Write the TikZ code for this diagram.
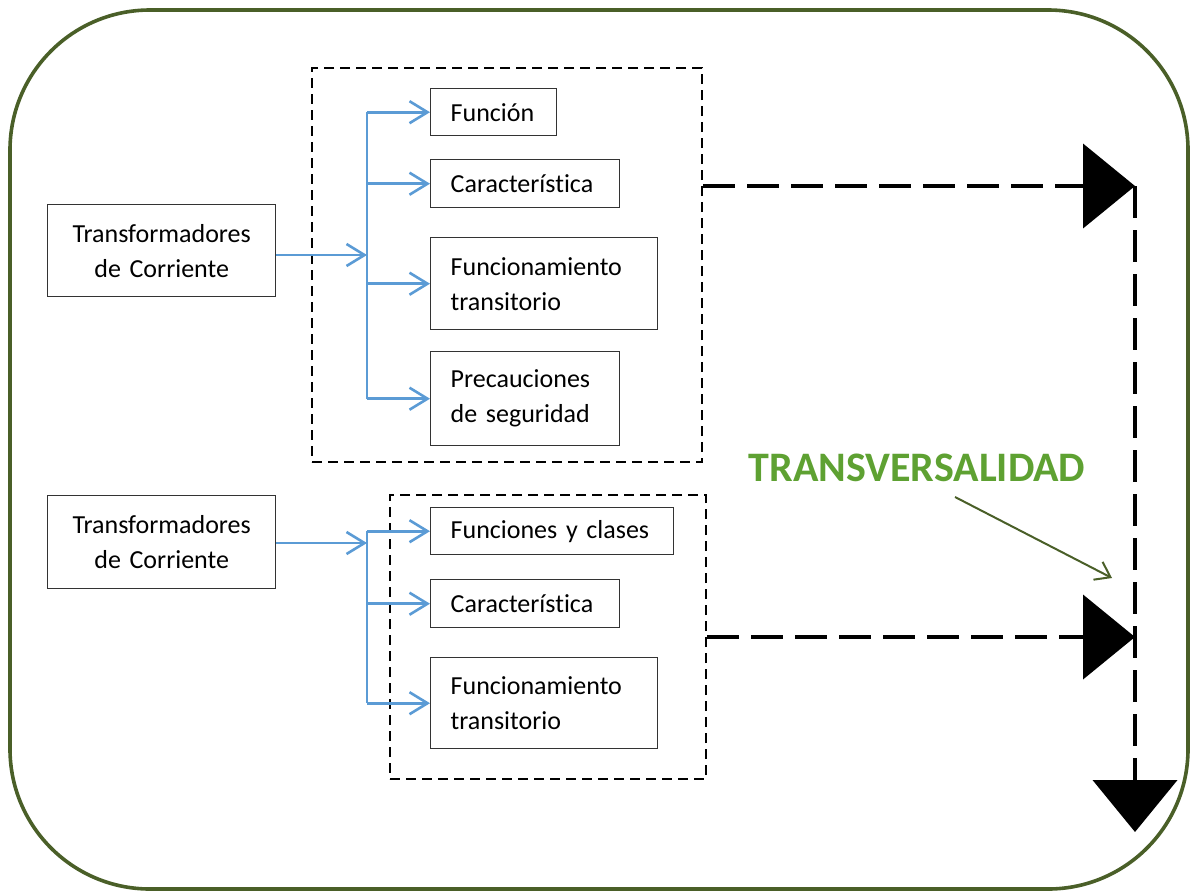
\documentclass[tikz,border=0pt]{standalone}
\usepackage{fontspec}
\setmainfont{Carlito}[WordSpace=0.7, Ligatures=NoCommon]
\usetikzlibrary{arrows.meta}
\definecolor{verdeosc}{HTML}{4A5F28}
\definecolor{verdetit}{HTML}{5EA132}
\definecolor{azul}{HTML}{5B9BD5}
\tikzset{
  caja/.style={draw=black!80, line width=0.7pt, rectangle, anchor=north west, inner xsep=10pt, align=left, font=\fontsize{13}{17.5}\selectfont},
  grupo/.style={draw, dashed, dash pattern=on 5pt off 3pt, line width=1.2pt, anchor=north west},
  flecha/.style={azul, line width=1.3pt, -{Straight Barb[length=9pt,width=11pt]}},
  trazo/.style={line width=2.2pt, dash pattern=on 16pt off 6pt}
}
\begin{document}
\begin{tikzpicture}[x=0.5pt, y=-0.5pt]
  \useasboundingbox (0,0) rectangle (1192,890);
  \draw[verdeosc, line width=1.8pt, rounded corners=70pt] (10,10) rectangle (1188,889);

  % grupo superior
  \node[grupo, minimum width=195pt, minimum height=197pt] (grupoA) at (311,67) {};
  \node[caja, align=center, text width=94pt, minimum height=46pt] (trafoA) at (47,204) {Transformadores\\de Corriente};
  \node[caja, text width=43pt, minimum height=23.5pt] (funcion) at (430,88) {Función};
  \node[caja, text width=74.5pt, minimum height=24pt] (caracA) at (430,159) {Característica};
  \node[caja, text width=93.5pt, minimum height=46pt] (transA) at (430,237) {Funcionamiento\\transitorio};
  \node[caja, text width=74.5pt, minimum height=47pt] (precauc) at (430,351) {Precauciones\\de seguridad};

  \coordinate (ejeA) at (367,255);
  \draw[azul, line width=1.3pt] (funcion.west -| ejeA) -- (precauc.west -| ejeA);
  \draw[flecha] (trafoA.east |- ejeA) -- (ejeA);
  \draw[flecha] (funcion.west -| ejeA) -- (funcion.west);
  \draw[flecha] (caracA.west -| ejeA) -- (caracA.west);
  \draw[flecha] (transA.west -| ejeA) -- (transA.west);
  \draw[flecha] (precauc.west -| ejeA) -- (precauc.west);

  % grupo inferior
  \node[grupo, minimum width=158pt, minimum height=142pt] (grupoB) at (389,494) {};
  \node[caja, align=center, text width=94pt, minimum height=46.5pt] (trafoB) at (47,495) {Transformadores\\de Corriente};
  \node[caja, text width=101.5pt, minimum height=23.5pt] (clases) at (430,507) {Funciones y clases};
  \node[caja, text width=74.5pt, minimum height=24pt] (caracB) at (430,579) {Característica};
  \node[caja, text width=93.5pt, minimum height=45.5pt] (transB) at (430,657) {Funcionamiento\\transitorio};

  \coordinate (ejeB) at (367,543);
  \draw[azul, line width=1.3pt] (clases.west -| ejeB) -- (transB.west -| ejeB);
  \draw[flecha] (trafoB.east |- ejeB) -- (ejeB);
  \draw[flecha] (clases.west -| ejeB) -- (clases.west);
  \draw[flecha] (caracB.west -| ejeB) -- (caracB.west);
  \draw[flecha] (transB.west -| ejeB) -- (transB.west);

  % transversalidad
  \coordinate (esqA) at (1135,186);
  \coordinate (esqB) at (1135,637);
  \coordinate (fin) at (1135,832);
  \draw[trazo, -{Triangle[length=26pt,width=42pt]}] (esqA -| grupoA.east) -- (esqA);
  \draw[trazo, -{Triangle[length=26pt,width=42pt]}] (esqB -| grupoB.east) -- (esqB);
  \draw[trazo, -{Triangle[length=26pt,width=42pt]}] (esqA) -- (fin);

  \node[text=verdetit, font=\fontsize{21}{25}\selectfont\bfseries] (transv) at (917,468) {TRANSVERSALIDAD};
  \coordinate (punta) at (1112,578);
  \draw[verdeosc, line width=1pt, -{Straight Barb[length=7pt,width=10pt]}] ([xshift=19pt,yshift=-4pt]transv.south) -- (punta);
\end{tikzpicture}
\end{document}
